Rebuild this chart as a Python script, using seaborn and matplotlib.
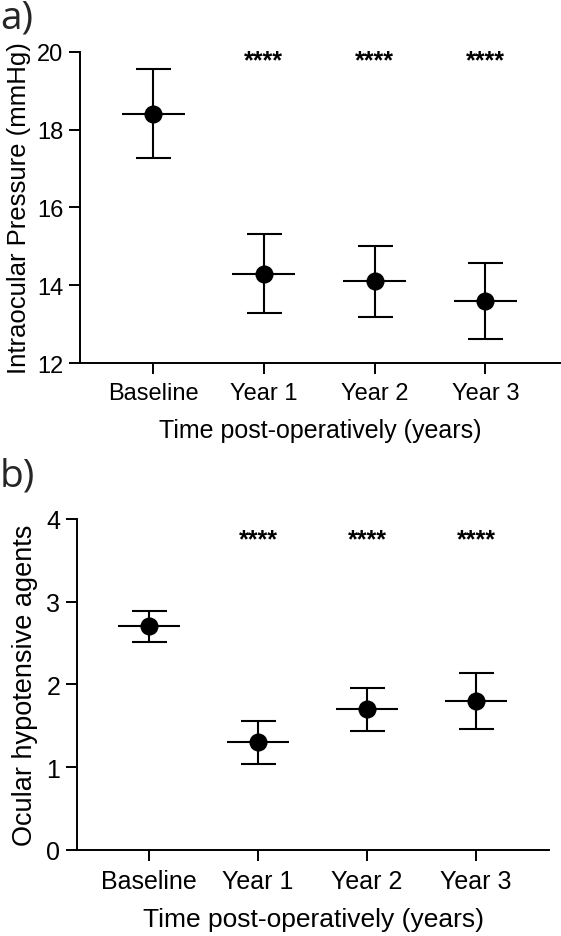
import numpy as np
import pandas as pd
import matplotlib
matplotlib.use("Agg")
import matplotlib.pyplot as plt
import seaborn as sns

# data
groups = ["Baseline", "Year 1", "Year 2", "Year 3"]
iop_mean = [18.4, 14.3, 14.1, 13.6]
iop_lo = [17.27, 13.28, 13.18, 12.63]
iop_hi = [19.55, 15.32, 15.0, 14.56]
meds_mean = [2.70, 1.30, 1.70, 1.80]
meds_lo = [2.51, 1.04, 1.43, 1.46]
meds_hi = [2.89, 1.56, 1.96, 2.14]
stars = ["", "****", "****", "****"]

sns.set_theme(style="ticks")
plt.rcParams['font.family'] = ['Liberation Sans', 'DejaVu Sans']
plt.rcParams['axes.linewidth'] = 1.4
plt.rcParams['xtick.major.width'] = 1.4
plt.rcParams['ytick.major.width'] = 1.4
plt.rcParams['xtick.major.size'] = 8
plt.rcParams['ytick.major.size'] = 8
plt.rcParams['xtick.color'] = 'black'
plt.rcParams['ytick.color'] = 'black'
plt.rcParams['axes.edgecolor'] = 'black'

fig = plt.figure(figsize=(5.61, 9.37), dpi=100)
ax1 = fig.add_axes([0.1426, 0.6115, 0.855, 0.332])
ax2 = fig.add_axes([0.137, 0.0921, 0.842, 0.353])


def draw_panel(ax, mean, lo, hi, ylabel, ylim, yticks, star_y, fs_tick, fs_x, fs_y, ylpad):
    df = pd.DataFrame({'group': groups, 'mean': mean, 'lo': lo, 'hi': hi})
    sns.scatterplot(data=df, x='group', y='mean', ax=ax, color='black',
                    s=170, edgecolor='black', linewidth=0, zorder=4)
    xs = np.arange(len(groups))
    m = df['mean'].to_numpy()
    ax.errorbar(xs, m, yerr=[m - df['lo'].to_numpy(), df['hi'].to_numpy() - m],
                fmt='none', ecolor='black', elinewidth=1.5, capsize=12.6,
                capthick=1.5, zorder=3)
    ax.hlines(m, xs - 0.285, xs + 0.285, color='black', linewidth=1.5, zorder=3)
    for x, s in zip(xs, stars):
        if s:
            ax.text(x, star_y, s, ha='center', va='center', fontsize=18,
                    fontweight='bold', color='black')
    ax.set_xlim(-0.66, 3.67)
    ax.set_ylim(*ylim)
    ax.set_yticks(yticks)
    ax.set_ylabel(ylabel, fontsize=fs_y, color='black', labelpad=ylpad)
    ax.set_xlabel("Time post-operatively (years)", fontsize=fs_x, color='black', labelpad=10)
    ax.tick_params(axis='x', labelsize=fs_tick, pad=6)
    ax.tick_params(axis='y', labelsize=fs_tick, pad=4)
    sns.despine(ax=ax)


draw_panel(ax1, iop_mean, iop_lo, iop_hi, "Intraocular Pressure (mmHg)",
           (12, 20), [12, 14, 16, 18, 20], 19.78, 17, 18, 18.5, 4)
draw_panel(ax2, meds_mean, meds_lo, meds_hi, "Ocular hypotensive agents",
           (0, 4), [0, 1, 2, 3, 4], 3.75, 18, 19, 19.5, 6)

fig.text(0.0, 1.0, "a)", fontsize=28, family='Open Sans', va='top', ha='left')
fig.text(0.0, 0.512, "b)", fontsize=28, family='Open Sans', va='top', ha='left')

fig.savefig("out.png", dpi=100)
